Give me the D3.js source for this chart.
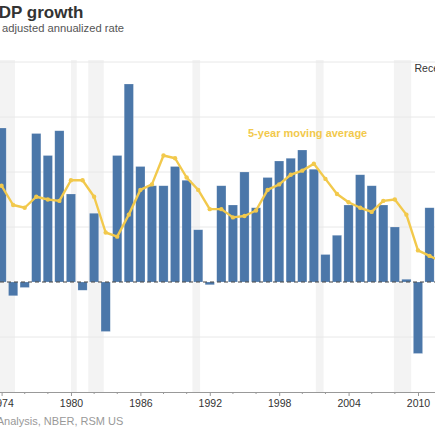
<!DOCTYPE html>
<html>
<head>
<meta charset="utf-8">
<script src="https://cdn.jsdelivr.net/npm/d3@7"></script>
<style>
  html, body { margin: 0; padding: 0; background: #fff; overflow: hidden; }
  svg { display: block; font-family: "Liberation Sans", Arial, Helvetica, sans-serif; }
</style>
</head>
<body>
<svg id="chart" width="435" height="435"></svg>
<script>
// ---- data ----
const years = [1972,1973,1974,1975,1976,1977,1978,1979,1980,1981,1982,1983,1984,1985,1986,1987,1988,1989,1990,1991,
               1992,1993,1994,1995,1996,1997,1998,1999,2000,2001,2002,2003,2004,2005,2006,2007,2008,2009,2010,2011];
const gdpGrowth = [5.3,5.6,-0.5,-0.2,5.4,4.6,5.5,3.2,-0.3,2.5,-1.8,4.6,7.2,4.2,3.5,3.5,4.2,3.7,1.9,-0.1,
                   3.5,2.8,4.0,2.7,3.8,4.4,4.5,4.8,4.1,1.0,1.7,2.8,3.9,3.5,2.8,2.0,0.1,-2.6,2.7,1.6];
const movingAvg = [3.4,3.5,2.8,2.7,3.1,3.0,2.95,3.7,3.7,3.1,1.8,1.65,2.45,3.35,3.55,4.6,4.5,3.8,3.35,2.65,
                   2.65,2.35,2.4,2.6,3.35,3.55,3.9,4.05,4.3,3.75,3.2,2.9,2.7,2.55,2.95,3.0,2.45,1.15,0.95,0.75];
const recessionStarts = ["1973-11","1980-01","1981-07","1990-07","2001-03","2007-12"];
const recessionEnds   = ["1975-03","1980-07","1982-11","1991-03","2001-11","2009-06"];
const yTicks = [-4,-2,0,2,4,6,8];
const xTickYears = [1974,1980,1986,1992,1998,2004,2010];
const titleText = "Real GDP growth";
const subtitleText = "Seasonally adjusted annualized rate";
const sourceText = "Source: Bureau of Economic Analysis, NBER, RSM US";
const lineLabel = "5-year moving average";
const recessionLabel = "Recession";

// ---- drawing ----
const W = 435, H = 435;
const svg = d3.select("#chart");
const parseMonth = d3.timeParse("%Y-%m");

const x = d3.scaleTime()
  .domain([new Date(1974,0,1), new Date(2010,0,1)])
  .range([1.6, 418]);
const y = d3.scaleLinear().domain([-4, 8]).range([392, 62]);

const yearPx = x(new Date(1975,0,1)) - x(new Date(1974,0,1));
const barW = yearPx * 0.8;
const barDate = yr => new Date(yr, 11, 31);

const data = years.map((yr, i) => ({yr, v: gdpGrowth[i], ma: movingAvg[i]}));

// recession shading
svg.append("g").selectAll("rect")
  .data(recessionStarts.map((s, i) => ({s: parseMonth(s), e: parseMonth(recessionEnds[i])})))
  .join("rect")
  .attr("x", d => x(d.s))
  .attr("width", d => x(d.e) - x(d.s))
  .attr("y", y(8) - 2)
  .attr("height", y(-4) - y(8) + 2)
  .attr("fill", "#f3f3f3");

// gridlines
svg.append("g").selectAll("line")
  .data(yTicks.filter(t => t !== 0 && t !== -4))
  .join("line")
  .attr("x1", 0).attr("x2", W)
  .attr("y1", d => y(d)).attr("y2", d => y(d))
  .attr("stroke", "#e8e8e8").attr("stroke-width", 1);

// bars
svg.append("g").selectAll("rect")
  .data(data)
  .join("rect")
  .attr("x", d => x(barDate(d.yr)) - barW / 2)
  .attr("width", barW)
  .attr("y", d => y(Math.max(0, d.v)))
  .attr("height", d => Math.abs(y(d.v) - y(0)))
  .attr("fill", "#4b77a9")
  .attr("stroke", "rgba(255,255,255,0.35)")
  .attr("stroke-width", 0.6);

// zero line
svg.append("line")
  .attr("x1", 0).attr("x2", W)
  .attr("y1", y(0)).attr("y2", y(0))
  .attr("stroke", "#444").attr("stroke-width", 1.2)
  .attr("stroke-dasharray", "4,3");

// moving average line
const lineGen = d3.line().x(d => x(barDate(d.yr))).y(d => y(d.ma));
svg.append("path")
  .datum(data)
  .attr("d", lineGen)
  .attr("fill", "none")
  .attr("stroke", "#f2c94c")
  .attr("stroke-width", 2.4)
  .attr("stroke-linejoin", "round");
svg.append("g").selectAll("circle")
  .data(data)
  .join("circle")
  .attr("cx", d => x(barDate(d.yr)))
  .attr("cy", d => y(d.ma))
  .attr("r", 2.2)
  .attr("fill", "#f2c94c");

// x axis
const xAxis = d3.axisBottom(x)
  .tickValues(xTickYears.map(yr => new Date(yr, 0, 1)))
  .tickFormat(d3.timeFormat("%Y"))
  .tickSize(4)
  .tickPadding(4);
const gx = svg.append("g").attr("transform", `translate(0,${y(-4)})`).call(xAxis);
gx.select(".domain").remove();
gx.selectAll(".tick line").attr("stroke", "#999");
gx.selectAll(".tick text")
  .attr("fill", "#333")
  .style("font-size", "10.5px")
  .style("font-family", "'Liberation Sans', Arial, sans-serif");
// minor ticks
const minorYears = d3.range(1972, 2014, 2).filter(yr => !xTickYears.includes(yr));
gx.append("g").selectAll("line")
  .data(minorYears)
  .join("line")
  .attr("x1", d => x(new Date(d,0,1))).attr("x2", d => x(new Date(d,0,1)))
  .attr("y1", 0).attr("y2", 2)
  .attr("stroke", "#999");
gx.append("line")
  .attr("x1", 0).attr("x2", W)
  .attr("y1", 0.5).attr("y2", 0.5)
  .attr("stroke", "#999").attr("stroke-width", 1);

// texts
svg.append("text")
  .attr("x", 83.5).attr("y", 17.5)
  .attr("text-anchor", "end")
  .attr("fill", "#333")
  .style("font-size", "17px").style("font-weight", "bold")
  .text(titleText);
svg.append("text")
  .attr("x", 124).attr("y", 32.3)
  .attr("text-anchor", "end")
  .attr("fill", "#555")
  .style("font-size", "11.2px")
  .text(subtitleText);
svg.append("text")
  .attr("x", 123.3).attr("y", 424.5)
  .attr("text-anchor", "end")
  .attr("fill", "#999")
  .style("font-size", "11px")
  .text(sourceText);
svg.append("text")
  .attr("x", 248).attr("y", 137)
  .attr("fill", "#f2c94c")
  .style("font-size", "11px").style("font-weight", "bold")
  .text(lineLabel);
svg.append("text")
  .attr("x", 414.5).attr("y", 71.5)
  .attr("fill", "#333")
  .style("font-size", "10.5px")
  .text(recessionLabel);
</script>
</body>
</html>
